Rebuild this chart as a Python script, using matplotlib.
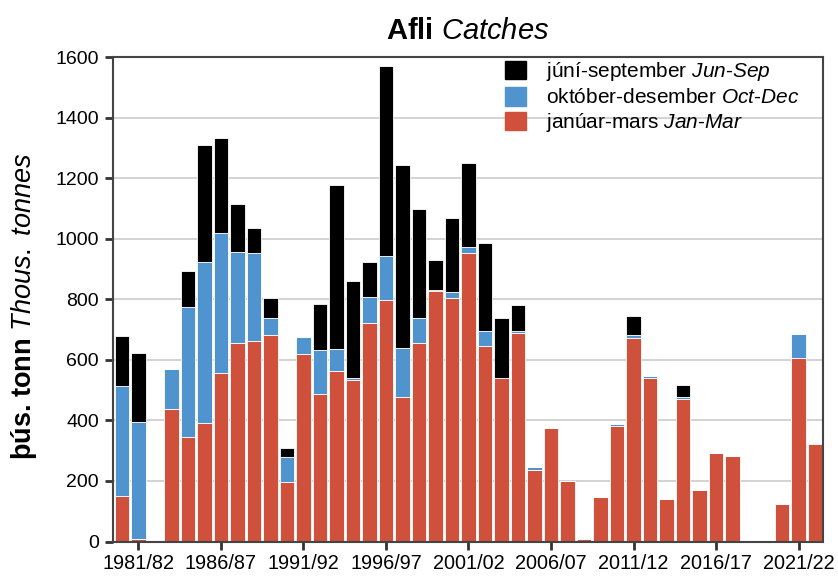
import matplotlib
matplotlib.use("Agg")
import matplotlib.pyplot as plt
import numpy as np
from matplotlib.patches import Patch

plt.rcParams['font.family'] = ['Liberation Sans', 'DejaVu Sans']
plt.rcParams['mathtext.fontset'] = 'custom'
plt.rcParams['mathtext.rm'] = 'Liberation Sans'
plt.rcParams['mathtext.it'] = 'Liberation Sans:italic'
plt.rcParams['mathtext.bf'] = 'Liberation Sans:bold'

seasons = [f"{y}/{(y + 1) % 100:02d}" for y in range(1980, 2023)]

jan_mar = [152, 8, 0, 437, 344, 390, 558, 657, 661, 683,
           197, 619, 487, 562, 535, 721, 797, 477, 657, 828,
           803, 953, 647, 541, 688, 236, 374, 200, 9, 147,
           381, 673, 541, 139, 471, 169, 293, 283, 0, 0,
           125, 608, 323]
oct_dec = [363, 386, 0, 134, 430, 533, 461, 298, 292, 56,
           83, 56, 145, 73, 6, 88, 147, 163, 82, 3,
           22, 19, 47, 0, 8, 9, 0, 0, 0, 0,
           6, 9, 7, 0, 5, 2, 0, 0, 0, 0,
           0, 77, 3]
jun_sep = [165, 230, 0, 0, 121, 388, 313, 161, 83, 66,
           30, 0, 153, 542, 321, 115, 626, 604, 361, 98,
           243, 278, 293, 198, 86, 0, 0, 0, 0, 0,
           0, 63, 0, 0, 40, 0, 0, 0, 0, 0,
           0, 0, 0]

tick_labels = ["1981/82", "1986/87", "1991/92", "1996/97", "2001/02",
               "2006/07", "2011/12", "2016/17", "2021/22"]

c_red = "#d0513b"
c_blue = "#4f94cf"
c_black = "#000000"

fig = plt.figure(figsize=(8.38, 5.77), dpi=100)
ax = fig.add_axes([0.1345, 0.0615, 0.848, 0.8392])

x = np.arange(len(seasons))
jm = np.array(jan_mar, float)
od = np.array(oct_dec, float)
js = np.array(jun_sep, float)
w = 0.88
ax.bar(x, jm, width=w, color=c_red, edgecolor="white", linewidth=0.6, zorder=3)
ax.bar(x, od, width=w, bottom=jm, color=c_blue, edgecolor="white", linewidth=0.6, zorder=3)
ax.bar(x, js, width=w, bottom=jm + od, color=c_black, edgecolor="white", linewidth=0.6, zorder=3)

ax.set_xlim(-0.55, 42.5)
ax.set_ylim(0, 1600)
ax.set_yticks(np.arange(0, 1601, 200))
ax.tick_params(axis='y', labelsize=14, length=6, width=2, color="#333333", pad=4)
tick_pos = [seasons.index(t) for t in tick_labels]
ax.set_xticks(tick_pos)
ax.set_xticklabels(tick_labels)
ax.tick_params(axis='x', labelsize=14.3, length=6, width=2, color="#333333", pad=3)
ax.grid(axis='y', color="#cccccc", linewidth=1.2, zorder=0)
ax.set_axisbelow(True)
for s in ax.spines.values():
    s.set_color("#444444")
    s.set_linewidth(1.5)
    s.set_zorder(4)

ax.set_title(r"Afli $\mathit{Catches}$", fontsize=21, fontweight='bold', pad=13)
ax.set_ylabel(r"þús. tonn $\mathit{Thous.\ tonnes}$", fontsize=19.5, fontweight='bold')
ax.yaxis.set_label_coords(-0.104, 0.485)

handles = [Patch(color=c_black), Patch(color=c_blue), Patch(color=c_red)]
labels = [r"júní-september $\mathit{Jun}$-$\mathit{Sep}$",
          r"október-desember $\mathit{Oct}$-$\mathit{Dec}$",
          r"janúar-mars $\mathit{Jan}$-$\mathit{Mar}$"]
leg = ax.legend(handles, labels, loc='upper left', bbox_to_anchor=(0.552, 0.994),
                frameon=False, fontsize=15, handlelength=1.0, handleheight=1.0,
                handletextpad=0.95, labelspacing=0.18, borderaxespad=0, borderpad=0)

fig.savefig("out.png", dpi=100)
